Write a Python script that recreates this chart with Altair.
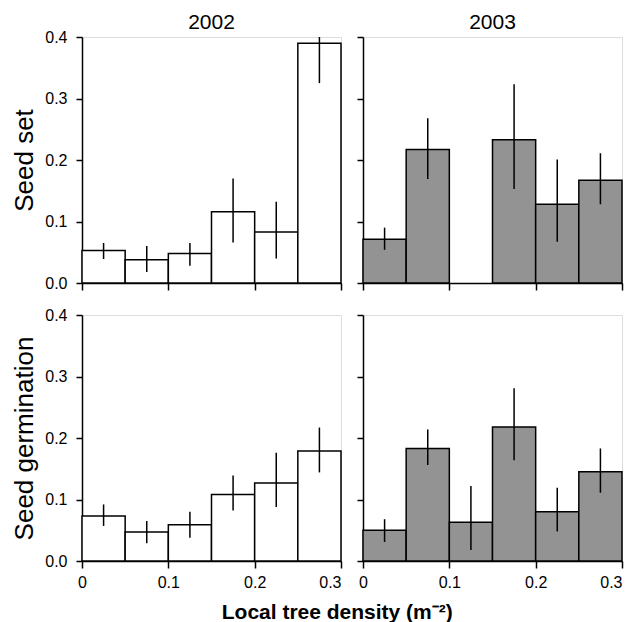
import altair as alt
import pandas as pd

# Density bins (m^-2)
bin_lo = [0.0, 0.05, 0.10, 0.15, 0.20, 0.25]
bin_hi = [0.05, 0.10, 0.15, 0.20, 0.25, 0.30]
bin_mid = [0.025, 0.075, 0.125, 0.175, 0.225, 0.275]

# Seed set
set_2002 = [0.053, 0.038, 0.048, 0.116, 0.083, 0.390]
set_2002_lo = [0.039, 0.018, 0.028, 0.066, 0.040, 0.325]
set_2002_hi = [0.065, 0.060, 0.065, 0.170, 0.132, 0.400]

set_2003 = [0.071, 0.217, None, 0.233, 0.128, 0.167]
set_2003_lo = [0.054, 0.169, None, 0.153, 0.067, 0.128]
set_2003_hi = [0.090, 0.268, None, 0.323, 0.201, 0.211]

# Seed germination
germ_2002 = [0.073, 0.047, 0.059, 0.108, 0.127, 0.179]
germ_2002_lo = [0.057, 0.029, 0.038, 0.082, 0.088, 0.144]
germ_2002_hi = [0.092, 0.065, 0.080, 0.139, 0.176, 0.217]

germ_2003 = [0.050, 0.183, 0.063, 0.218, 0.080, 0.145]
germ_2003_lo = [0.031, 0.156, 0.018, 0.164, 0.048, 0.111]
germ_2003_hi = [0.068, 0.214, 0.122, 0.281, 0.119, 0.183]

years = ["2002", "2003"]
row_titles = ["Seed set", "Seed germination"]
fills = {"2002": "white", "2003": "#939393"}

FONT = "Liberation Sans"
W, H = 259, 246
y_ticks = [round(i * 0.05, 2) for i in range(9)]
x_ticks = [0.0, 0.1, 0.2, 0.3]


def panel(vals, lo, hi, year, row, top, left):
    df = pd.DataFrame({"x0": bin_lo, "x1": bin_hi, "xm": bin_mid,
                       "v": vals, "lo": lo, "hi": hi}).dropna()
    xaxis = alt.Axis(
        values=x_ticks, grid=False, labels=not top, tickSize=7,
        labelExpr="datum.value == 0 ? '0' : format(datum.value, '.1f')",
        labelFlush=False,
        labelAlign={"condition": {"test": "datum.value > 0.29", "value": "right"}, "value": "center"},
        labelFontSize=16, labelPadding=6, title=None,
        domainColor="black", tickColor="black", labelColor="black",
        domainWidth=1.5, tickWidth=1.5,
    )
    yaxis = alt.Axis(
        values=y_ticks, grid=False, labels=left,
        tickSize={"condition": {"test": "round(datum.value*20) % 2 == 0", "value": 6}, "value": 3},
        labelExpr="round(datum.value*20) % 2 == 0 ? format(datum.value, '.1f') : ''",
        labelFontSize=16, labelPadding=9,
        title=row if left else None, titleFontSize=26, titleFontWeight="normal",
        titlePadding=7,
        domainColor="black", tickColor="black", labelColor="black",
        domainWidth=1.5, tickWidth=1.5,
    )
    xs = alt.Scale(domain=[0, 0.3], nice=False, zero=False)
    ys = alt.Scale(domain=[0, 0.4], nice=False)
    bars = alt.Chart(df).mark_rect(fill=fills[year], stroke="black", strokeWidth=1.5).encode(
        x=alt.X("x0:Q", scale=xs, axis=xaxis),
        x2="x1:Q",
        y=alt.Y("v:Q", scale=ys, axis=yaxis),
        y2=alt.datum(0),
    )
    err = alt.Chart(df).mark_rule(color="black", strokeWidth=1.5).encode(
        x=alt.X("xm:Q", scale=xs),
        y=alt.Y("lo:Q", scale=ys),
        y2="hi:Q",
    )
    ch = alt.layer(bars, err).properties(width=W, height=H)
    if top:
        ch = ch.properties(title=alt.TitleParams(year, fontSize=21, fontWeight="normal",
                                                 font=FONT, color="black",
                                                 offset=-4 if left else 3,
                                                 frame="group", anchor="middle"))
    return ch


tl = panel(set_2002, set_2002_lo, set_2002_hi, "2002", row_titles[0], True, True)
tr = panel(set_2003, set_2003_lo, set_2003_hi, "2003", row_titles[0], True, False)
bl = panel(germ_2002, germ_2002_lo, germ_2002_hi, "2002", row_titles[1], False, True)
br = panel(germ_2003, germ_2003_lo, germ_2003_hi, "2003", row_titles[1], False, False)

chart = alt.concat(
    tl, tr, bl, br, columns=2,
    spacing={"row": 32, "column": 22}, bounds="flush",
).properties(
    padding={"left": 3, "top": 3, "right": 0, "bottom": 0},
    title=alt.TitleParams("Local tree density (m⁻²)", orient="bottom", fontSize=21,
                          fontWeight="bold", font=FONT, color="black", anchor="middle",
                          dx=20, offset=11),
).configure_view(
    stroke="black", strokeWidth=1.5
).configure(
    font=FONT
).configure_axis(
    labelFont=FONT, titleFont=FONT, titleColor="black"
)

chart.save("out.html", embed_options={"renderer": "svg", "actions": False})
